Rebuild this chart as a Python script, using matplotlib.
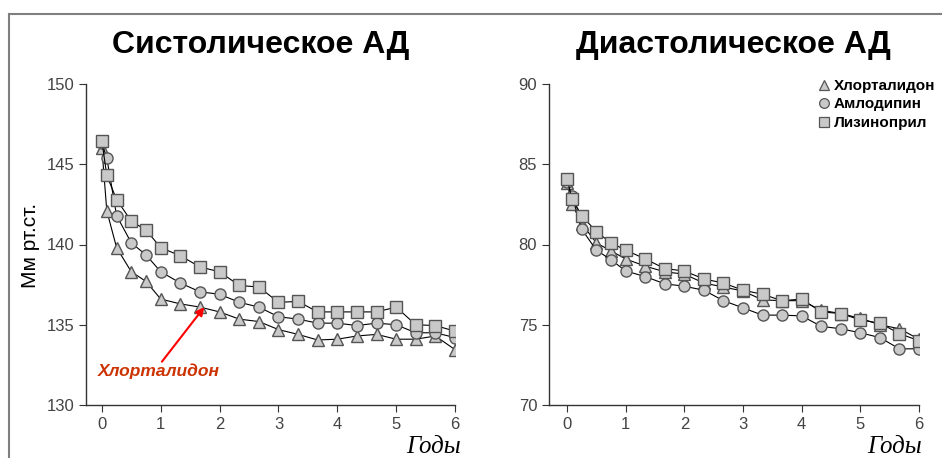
import matplotlib
matplotlib.use("Agg")
import matplotlib.pyplot as plt
from matplotlib.lines import Line2D
import numpy as np

# visit times, years
years = [0, 1/12, 0.25, 0.5, 0.75, 1, 4/3, 5/3, 2, 7/3, 8/3, 3,
         10/3, 11/3, 4, 13/3, 14/3, 5, 16/3, 17/3, 6]

drugs = ["Хлорталидон", "Амлодипин", "Лизиноприл"]
markers = ["^", "o", "s"]

# systolic BP, mm Hg
sys_chlor = [146.0, 142.1, 139.8, 138.3, 137.7, 136.6, 136.3, 136.1, 135.8, 135.35, 135.2,
             134.7, 134.4, 134.05, 134.1, 134.3, 134.4, 134.1, 134.1, 134.3, 133.45]
sys_amlo = [146.3, 145.4, 141.8, 140.1, 139.35, 138.3, 137.6, 137.05, 136.9, 136.4, 136.1,
            135.5, 135.35, 135.1, 135.1, 134.95, 135.1, 135.0, 134.5, 134.5, 134.2]
sys_lis = [146.45, 144.3, 142.8, 141.45, 140.9, 139.8, 139.3, 138.6, 138.3, 137.45, 137.35,
           136.4, 136.45, 135.8, 135.8, 135.8, 135.8, 136.1, 135.0, 134.95, 134.6]

# diastolic BP, mm Hg
dia_chlor = [83.85, 82.55, 81.3, 80.1, 79.6, 79.1, 78.65, 78.3, 78.15, 77.6, 77.35,
             77.1, 76.55, 76.5, 76.5, 75.9, 75.7, 75.4, 75.0, 74.75, 74.1]
dia_amlo = [83.9, 83.05, 80.95, 79.65, 79.05, 78.35, 78.0, 77.55, 77.4, 77.15, 76.5,
            76.05, 75.6, 75.6, 75.55, 74.9, 74.75, 74.5, 74.2, 73.5, 73.5]
dia_lis = [84.1, 82.85, 81.8, 80.8, 80.1, 79.65, 79.1, 78.5, 78.35, 77.85, 77.6,
           77.15, 76.9, 76.5, 76.6, 75.8, 75.7, 75.3, 75.1, 74.45, 74.0]

sys_ticks = [130, 135, 140, 145, 150]
dia_ticks = [70, 75, 80, 85, 90]
year_ticks = [0, 1, 2, 3, 4, 5, 6]

tick_col = "#444444"
face = "#c9c9c9"
edge = "#555555"

fig = plt.figure(figsize=(9.42, 4.58), dpi=100)

# frame of the slide
fig.add_artist(Line2D([9/942, 1], [1 - 14/458, 1 - 14/458], color="#7f7f7f", lw=1.5))
fig.add_artist(Line2D([9/942, 9/942], [0, 1 - 14/458], color="#7f7f7f", lw=1.5))

ax1 = fig.add_axes([86/942, 53/458, 369/942, 321/458])
ax2 = fig.add_axes([549/942, 53/458, 370/942, 321/458])


def draw(ax, series, ticks, xmin, label_x):
    for vals, m in zip(series, markers):
        ms = 8.5 if m == "^" else 8
        ax.plot(years, vals, color="black", lw=0.8, marker=m, ms=ms,
                mfc=face, mec=edge, mew=1.0)
    ax.set_xlim(xmin, 6)
    ax.set_ylim(ticks[0], ticks[-1])
    ax.set_yticks(ticks)
    ax.set_xticks(year_ticks)
    for s in ["top", "right"]:
        ax.spines[s].set_visible(False)
    for s in ["left", "bottom"]:
        ax.spines[s].set_color("#333333")
        ax.spines[s].set_linewidth(1.0)
    ax.tick_params(direction="out", length=5, width=0.8, colors="#333333",
                   labelcolor=tick_col, labelsize=12)
    for lab in ax.get_xticklabels() + ax.get_yticklabels():
        lab.set_family("Liberation Sans")
    fig.text(label_x / 942, 5 / 458, "Годы", ha="right", va="baseline",
             fontsize=18, style="italic", family="Liberation Serif")


draw(ax1, [sys_chlor, sys_amlo, sys_lis], sys_ticks, -0.27, 461)
draw(ax2, [dia_chlor, dia_amlo, dia_lis], dia_ticks, -0.307, 922)

title_font = ["Liberation Sans Narrow", "Liberation Sans"]
fig.text(261/942, 1 - 45/458, "Систолическое АД", ha="center", va="center",
         fontsize=23, fontweight="bold", family=title_font)
fig.text(733/942, 1 - 45/458, "Диастолическое АД", ha="center", va="center",
         fontsize=23, fontweight="bold", family=title_font)

fig.text(30/942, 1 - 245/458, "Мм рт.ст.", rotation=90, ha="center", va="center",
         fontsize=15, family="Liberation Sans")

# red callout for chlorthalidone
ax1.text(0.97, 132.1, "Хлорталидон", ha="center", va="center", fontsize=12.5,
         fontweight="bold", style="italic", color="#cc3300", family="Liberation Sans")
ax1.annotate("", xy=(1.74, 136.1), xytext=(1.02, 132.7),
             arrowprops=dict(arrowstyle="-|>", color="#ff0000", lw=1.5,
                             mutation_scale=12, shrinkA=0, shrinkB=0))

handles = [Line2D([], [], ls="none", marker=m, ms=7, mfc=face, mec=edge, mew=0.9)
           for m in markers]
leg = ax2.legend(handles, drugs, loc="upper right", bbox_to_anchor=(1.06, 1.035),
                 frameon=False, handletextpad=0.15, labelspacing=0.3,
                 handlelength=1.0, borderaxespad=0.0,
                 prop={"family": "Liberation Sans", "weight": "bold", "size": 11})

fig.savefig("out.png", dpi=100)
